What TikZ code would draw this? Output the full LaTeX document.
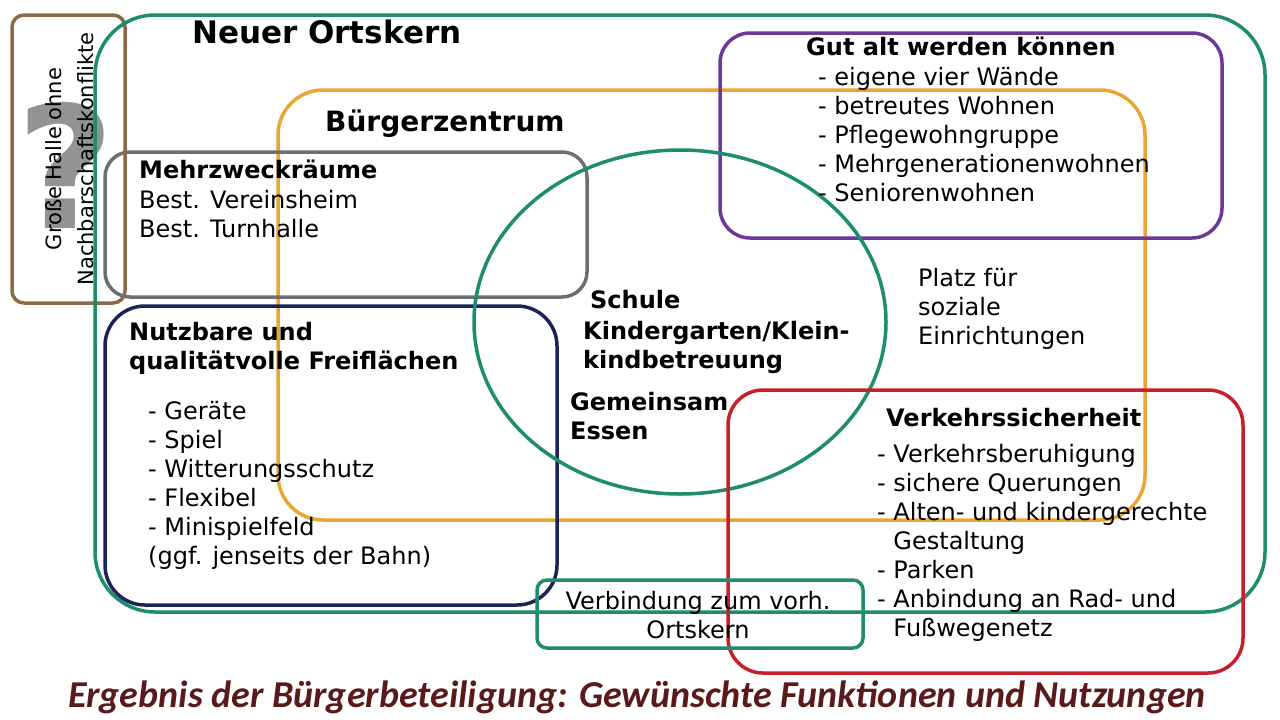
\documentclass[tikz,border=0pt]{standalone}
\usepackage{fontspec}
\setmainfont{DejaVu Sans}
\newfontfamily\capfont{Carlito}
\usetikzlibrary{shapes.geometric}
\definecolor{tgreen}{HTML}{1E8C6E}
\definecolor{torange}{HTML}{E8A632}
\definecolor{tpurple}{HTML}{6B3A96}
\definecolor{tgray}{HTML}{6E6E6E}
\definecolor{tnavy}{HTML}{1A2456}
\definecolor{tred}{HTML}{C8202A}
\definecolor{tbrown}{HTML}{8C6A45}
\definecolor{tcap}{HTML}{5A1A1A}
\tikzset{
 frame/.style={line width=3.5pt, rounded corners=#1},
 txt/.style={anchor=north west, align=left, inner sep=0pt, font=\fontsize{24}{29}\selectfont},
 ttl/.style={anchor=north west, align=left, inner sep=0pt, font=\bfseries\fontsize{24}{29}\selectfont},
}
\begin{document}
\begin{tikzpicture}[x=1pt,y=-1pt]
\useasboundingbox[fill=white] (0,0) rectangle (1280,720);
\node[text=gray!85, font=\bfseries\fontsize{170}{170}\selectfont, inner sep=0pt] (q) at (66,165) {?};
\draw[frame=12pt, tbrown] (12,15) rectangle (125,303);
\draw[frame=60pt, tgreen] (95,15) rectangle (1265,612);
\draw[frame=45pt, torange] (278,90) rectangle (1145,520);
\draw[frame=30pt, tpurple] (720,33) rectangle (1222,238);
\draw[frame=25pt, tgray] (105,152) rectangle (587,297);
\draw[frame=40pt, tnavy] (105,306) rectangle (557,605);
\draw[tgreen, line width=3.5pt] (680,322) ellipse [x radius=206, y radius=172];
\draw[frame=35pt, tred] (728,390) rectangle (1243,673);
\draw[frame=10pt, tgreen] (537,580) rectangle (863,648);

\node[rotate=90, align=center, font=\fontsize{21}{32}\selectfont] (gh) at (70,159) {Große Halle ohne\\Nachbarschaftskonflikte};
\node[ttl, font=\bfseries\fontsize{31}{34}\selectfont] (no) at (192,20) {Neuer Ortskern};
\node[ttl, font=\bfseries\fontsize{28}{32}\selectfont] (bz) at (325,110) {Bürgerzentrum};
\node[ttl] (gt) at (806,37) {Gut alt werden können};
\node[txt] (gl) at (818,67) {- eigene vier Wände\\- betreutes Wohnen\\- Pflegewohngruppe\\- Mehrgenerationenwohnen\\- Seniorenwohnen};
\node[ttl] (mt) at (139,160) {Mehrzweckräume};
\node[txt] (ml) at (139,190) {Best. Vereinsheim\\Best. Turnhalle};
\node[ttl] (nt) at (129,322) {Nutzbare und\\qualitätvolle Freiflächen};
\node[txt] (nl) at (148,401) {- Geräte\\- Spiel\\- Witterungsschutz\\- Flexibel\\- Minispielfeld};
\node[txt] (ng) at (148,546) {(ggf. jenseits der Bahn)};
\node[ttl] (sc) at (590,290) {Schule};
\node[ttl] (kg) at (583,321) {Kindergarten/Klein-\\kindbetreuung};
\node[ttl] (ge) at (570,392) {Gemeinsam\\Essen};
\node[txt] (pl) at (918,268) {Platz für\\soziale\\Einrichtungen};
\node[ttl] (vt) at (886,408) {Verkehrssicherheit};
\node[txt] (vl) at (877,444) {- Verkehrsberuhigung\\- sichere Querungen\\- Alten- und kindergerechte\\\phantom{- }Gestaltung\\- Parken\\- Anbindung an Rad- und\\\phantom{- }Fußwegenetz};
\node[align=center, inner sep=0pt, font=\fontsize{24}{29}\selectfont] (vb) at (698,615) {Verbindung zum vorh.\\Ortskern};
\node[text=tcap, font=\capfont\bfseries\itshape\fontsize{38}{40}\selectfont] (cap) at (637,697) {Ergebnis der Bürgerbeteiligung: Gewünschte Funktionen und Nutzungen};
\end{tikzpicture}
\end{document}
